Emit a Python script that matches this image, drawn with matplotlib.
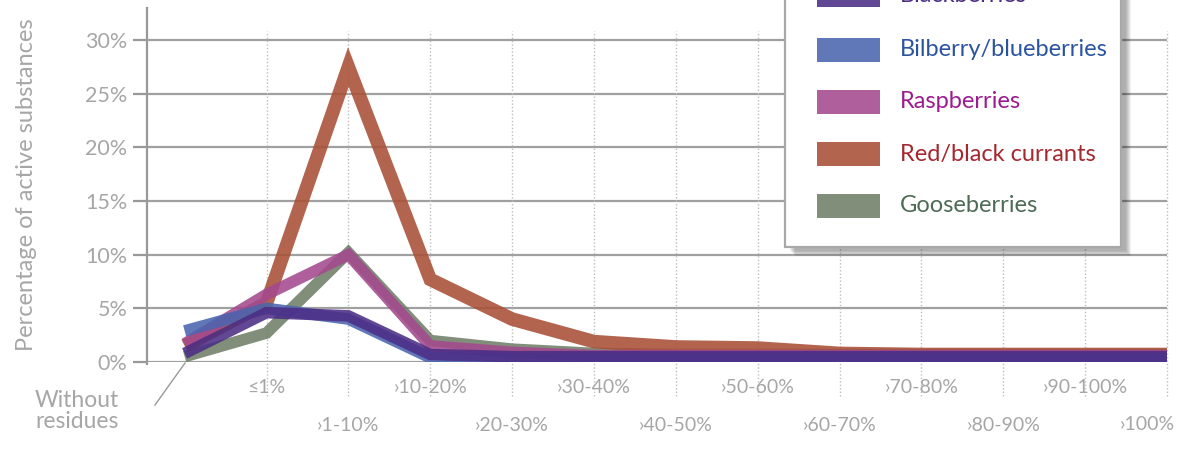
import numpy as np
import matplotlib
matplotlib.use("Agg")
import matplotlib.pyplot as plt
from matplotlib.patches import Rectangle
from matplotlib.lines import Line2D

plt.rcParams["font.family"] = ["Lato", "DejaVu Sans"]

# -- data --
categories = ["Without\nresidues", "≤1%", "›1-10%", "›10-20%", "›20-30%", "›30-40%",
              "›40-50%", "›50-60%", "›60-70%", "›70-80%", "›80-90%", "›90-100%", "›100%"]
gooseberries = [0.5, 2.7, 10.2, 2.0, 1.2, 0.8, 0.7, 0.7, 0.7, 0.7, 0.7, 0.7, 0.7]
red_currants = [1.5, 5.5, 27.5, 7.7, 4.0, 1.9, 1.4, 1.3, 0.8, 0.7, 0.7, 0.7, 0.7]
raspberries = [1.7, 6.3, 10.0, 1.5, 0.9, 0.6, 0.6, 0.6, 0.6, 0.6, 0.6, 0.6, 0.6]
bilberries = [2.9, 5.0, 4.0, 0.4, 0.3, 0.3, 0.3, 0.3, 0.3, 0.3, 0.3, 0.3, 0.3]
blackberries = [0.8, 4.6, 4.3, 0.7, 0.5, 0.5, 0.5, 0.5, 0.5, 0.5, 0.5, 0.5, 0.5]

legend_names = ["Blackberries", "Bilberry/blueberries", "Raspberries",
                "Red/black currants", "Gooseberries"]
line_colors = ["#4b2d85", "#4a64ae", "#a4498f", "#a84f35", "#6e7f68"]
text_colors = ["#4b2d85", "#2b54a0", "#9c1b8f", "#a4282e", "#4d6b55"]

W, H = 1178, 455
gray = "#a6a6a6"

fig = plt.figure(figsize=(W / 100, H / 100), dpi=100)
ax = fig.add_axes([147 / W, 93 / H, (1167 - 147) / W, (362 - 8) / H])

x = np.arange(len(categories))
ax.set_xlim(-0.46, 12)
ax.set_ylim(0, 33)

# horizontal grid
for v in range(0, 31, 5):
    ax.axhline(v, color="#a0a0a0", lw=1.6, zorder=1)
# vertical dotted grid (extends below axis)
ax.vlines(x[1:], -0.096, 0.935, transform=ax.get_xaxis_transform(),
          colors="#bdbdbd", lw=1, linestyles=(0, (1, 1.5)), clip_on=False, zorder=1)

# series
series = [(gooseberries, 4, 8.3), (red_currants, 3, 9.8), (raspberries, 2, 8.3),
          (bilberries, 1, 8.3), (blackberries, 0, 8.3)]
for vals, i, lw in series:
    ax.plot(x, vals, color=line_colors[i], lw=lw, alpha=0.88,
            solid_joinstyle="miter", solid_capstyle="butt", zorder=3)

# axes styling
for s in ["top", "right", "bottom"]:
    ax.spines[s].set_visible(False)
ax.spines["left"].set_color("#999999")
ax.spines["left"].set_linewidth(1.6)
ax.spines["left"].set_bounds(-0.2, 33)
ax.set_yticks(range(0, 31, 5))
ax.set_yticklabels([f"{v}%" for v in range(0, 31, 5)], fontsize=15.5, color=gray)
ax.tick_params(axis="y", length=10, width=1.6, color="#999999", pad=4)
ax.set_xticks([])
ax.set_ylabel("Percentage of active substances", fontsize=17, color=gray)
ax.yaxis.set_label_coords(-0.108, 0.5)

# category labels in two rows
xt = ax.get_xaxis_transform()
for i, lab in enumerate(categories[1:], start=1):
    yy = -0.0734 if i % 2 == 1 else -0.178
    if i == len(categories) - 1:
        ax.text(1175 / W, 1 - 425 / H, lab, transform=fig.transFigure, ha="right",
                va="center", fontsize=14, color=gray)
    else:
        ax.text(i, yy, lab, transform=xt, ha="center", va="center", fontsize=14, color=gray)
fig.text(35 / W, 1 - 411 / H, categories[0], ha="left", va="center",
         fontsize=16.5, color=gray, linespacing=1.0)
fig.add_artist(Line2D([155 / W, 185 / W], [1 - 405 / H, 1 - 363 / H],
                      color="#999999", lw=1))

# legend box
bx0, bx1, by0, by1 = 785, 1121, -20, 247
for k in range(6, 0, -1):
    fig.add_artist(Rectangle(((bx0 + 4 + k) / W, 1 - (by1 + 3 + k) / H),
                             (bx1 - bx0) / W, (by1 - by0) / H,
                             transform=fig.transFigure, facecolor="#000000",
                             edgecolor="none", alpha=0.06))
fig.add_artist(Rectangle((bx0 / W, 1 - by1 / H), (bx1 - bx0) / W, (by1 - by0) / H,
                         transform=fig.transFigure, facecolor="white",
                         edgecolor="#a8a8a8", lw=1.6))
centers = [-5, 50, 102, 154, 206]
for name, lc, tc, cy in zip(legend_names, line_colors, text_colors, centers):
    fig.add_artist(Rectangle((817 / W, 1 - (cy + 12) / H), 63 / W, 24 / H,
                             transform=fig.transFigure, facecolor=lc,
                             edgecolor="none", alpha=0.88))
    fig.text(900 / W, 1 - cy / H, name, ha="left", va="center", fontsize=17, color=tc)

fig.savefig("out.png", dpi=100)
